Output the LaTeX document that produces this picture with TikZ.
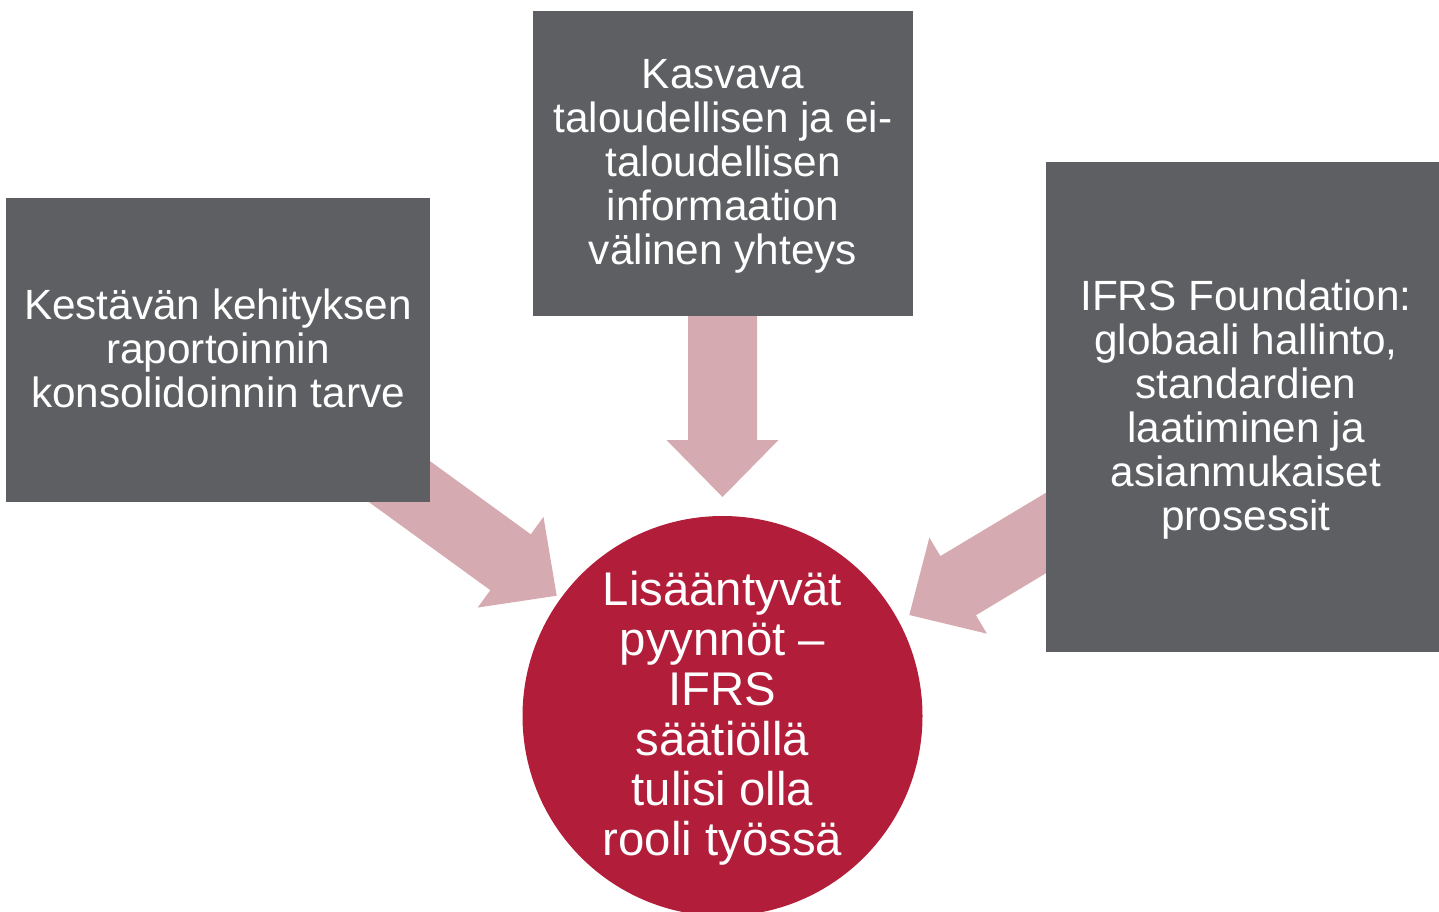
\documentclass[tikz,border=0pt]{standalone}
\usepackage{fontspec}
\setmainfont{Liberation Sans}
\usetikzlibrary{calc}
\definecolor{boxgray}{RGB}{94,95,98}
\definecolor{circred}{RGB}{178,30,58}
\definecolor{arrowpink}{RGB}{213,170,176}
\pgfdeclarelayer{bg}
\pgfsetlayers{bg,main}
\newcommand\blockarrow[2]{%
  \coordinate (H) at ($(#2)!57pt!(#1)$);
  \fill[arrowpink] (#2) -- ($(H)!56pt!90:(#2)$) -- ($(H)!34.5pt!90:(#2)$)
    -- ($(#1)!34.5pt!90:(#2)$) -- ($(#1)!34.5pt!-90:(#2)$)
    -- ($(H)!34.5pt!-90:(#2)$) -- ($(H)!56pt!-90:(#2)$) -- cycle;}
\tikzset{
  graybox/.style={fill=boxgray, inner sep=0pt},
  boxtext/.style={text=white, inner sep=0pt, align=center,
    font=\fontsize{42.3}{44}\selectfont},
  redcirc/.style={circle, fill=circred, inner sep=0pt, minimum size=400pt},
  circtext/.style={text=white, inner sep=0pt, align=center,
    font=\fontsize{47.3}{50}\selectfont}
}
\begin{document}
\begin{tikzpicture}[x=1pt,y=-1pt]
\useasboundingbox (0,0) rectangle (1439,912);
\clip (0,0) rectangle (1439,912);
\node[graybox, minimum width=424pt, minimum height=304pt] (lbox) at (218,350) {};
\node[boxtext] (ltext) at ($(lbox.center)+(0,-2)$)
  {Kestävän kehityksen\\raportoinnin\\konsolidoinnin tarve};
\node[graybox, minimum width=380pt, minimum height=305pt] (tbox) at (723,163.5) {};
\node[boxtext] (ttext) at ($(tbox.center)+(0,3)$)
  {Kasvava\\taloudellisen ja ei-\\taloudellisen\\informaation\\välinen yhteys};
\node[graybox, minimum width=393pt, minimum height=490pt] (rbox) at (1242.5,407) {};
\node[boxtext] (rtext) at ($(rbox.center)+(3.5,3)$)
  {IFRS Foundation:\\globaali hallinto,\\standardien\\laatiminen ja\\asianmukaiset\\prosessit};
\node[redcirc] (circ) at (722.5,716) {};
\node[circtext] (ctext) at ($(circ.center)+(0,2)$)
  {Lisääntyvät\\pyynnöt –\\IFRS\\säätiöllä\\tulisi olla\\rooli työssä};
\coordinate (tipL) at (556.7,595.7);
\coordinate (tipT) at (722.5,497);
\coordinate (tipR) at (909.3,615);
\coordinate (srcT) at (722.5,163.5);
\coordinate (srcR) at ($(rbox.center)+(0,8)$);
\begin{pgfonlayer}{bg}
\blockarrow{lbox.center}{tipL}
\blockarrow{srcT}{tipT}
\blockarrow{srcR}{tipR}
\end{pgfonlayer}
\end{tikzpicture}
\end{document}
